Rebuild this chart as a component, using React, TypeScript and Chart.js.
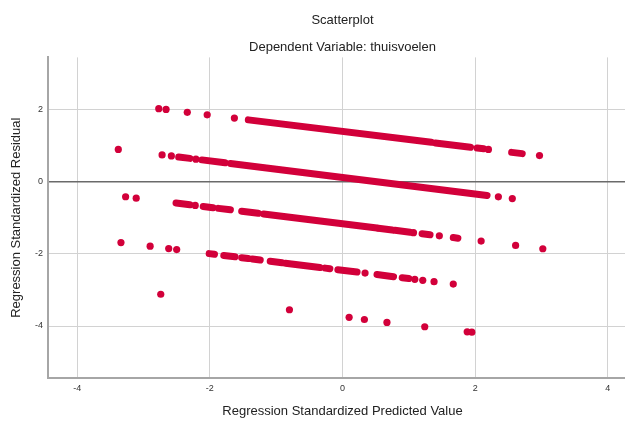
import React, { useEffect, useRef } from 'react';
import { Chart, registerables } from 'chart.js';

Chart.register(...registerables);

const titleText = 'Scatterplot';
const subtitleText = 'Dependent Variable: thuisvoelen';
const xTitle = 'Regression Standardized Predicted Value';
const yTitle = 'Regression Standardized Residual';

const xTicks = [-4, -2, 0, 2, 4];
const yTicks = [-4, -2, 0, 2];
const xRange = [-4.44, 4.44];
const yRange = [-5.44, 3.44];

// Isolated points per residual band
const b1X = [-2.77, -2.66, -2.34, -2.04, -1.63, 2.2, 2.97];
const b1Y = [2.02, 2.0, 1.92, 1.85, 1.76, 0.89, 0.72];
const b2X = [-3.38, -2.72, -2.58, -2.21, 2.35, 2.56];
const b2Y = [0.89, 0.74, 0.71, 0.622, -0.422, -0.47];
const b3X = [-3.27, -3.11, -2.22, 1.07, 1.46, 2.09, 2.61, 3.02];
const b3Y = [-0.42, -0.46, -0.661, -1.414, -1.503, -1.648, -1.767, -1.86];
const b4X = [-3.34, -2.9, -2.62, -2.5, 0.34, 1.09, 1.21, 1.38, 1.67];
const b4Y = [-1.69, -1.79, -1.855, -1.882, -2.534, -2.706, -2.734, -2.773, -2.839];
const b5X = [-2.74, -0.8, 0.1, 0.33, 0.67, 1.24, 1.88, 1.95];
const b5Y = [-3.12, -3.55, -3.76, -3.82, -3.9, -4.02, -4.16, -4.17];

// Dense runs of overlapping points: [start, end]
const b1RunX = [[-1.42, 1.34], [1.4, 1.93], [2.03, 2.13], [2.55, 2.71]];
const b1RunY = [[1.71, 1.09], [1.07, 0.95], [0.93, 0.91], [0.81, 0.775]];
const b2RunX = [[-2.47, -2.3], [-2.12, -1.77], [-1.69, 2.18]];
const b2RunY = [[0.68, 0.643], [0.601, 0.521], [0.503, -0.383]];
const b3RunX = [[-2.51, -2.3], [-2.1, -1.95], [-1.87, -1.69], [-1.52, -1.27], [-1.19, 0.52], [0.54, 0.75], [0.79, 1.02], [1.2, 1.32], [1.67, 1.74]];
const b3RunY = [[-0.594, -0.642], [-0.688, -0.722], [-0.741, -0.782], [-0.821, -0.878], [-0.897, -1.288], [-1.293, -1.341], [-1.35, -1.403], [-1.444, -1.471], [-1.551, -1.567]];
const b4RunX = [[-2.01, -1.93], [-1.79, -1.62], [-1.52, -1.42], [-1.36, -1.24], [-1.09, -0.91], [-0.86, -0.34], [-0.26, -0.19], [-0.07, 0.22], [0.52, 0.77], [0.9, 1.0]];
const b4RunY = [[-1.995, -2.013], [-2.045, -2.084], [-2.107, -2.13], [-2.144, -2.171], [-2.206, -2.247], [-2.259, -2.378], [-2.396, -2.412], [-2.44, -2.506], [-2.575, -2.633], [-2.663, -2.686]];

const POINT_COLOR = '#D2003A';
const FONT = "'Liberation Sans', Arial, sans-serif";

export default function App() {
  const ref = useRef<HTMLCanvasElement | null>(null);
  useEffect(() => {
    if (!ref.current) return;
    const pts: { x: number; y: number }[] = [];
    [[b1X, b1Y], [b2X, b2Y], [b3X, b3Y], [b4X, b4Y], [b5X, b5Y]].forEach(([xs, ys]) => {
      xs.forEach((x, i) => pts.push({ x, y: ys[i] }));
    });
    const runDatasets: any[] = [];
    [[b1RunX, b1RunY], [b2RunX, b2RunY], [b3RunX, b3RunY], [b4RunX, b4RunY]].forEach(([rx, ry]) => {
      rx.forEach((r, i) => {
        runDatasets.push({
          type: 'scatter',
          data: [{ x: r[0], y: ry[i][0] }, { x: r[1], y: ry[i][1] }],
          showLine: true,
          borderColor: POINT_COLOR,
          backgroundColor: POINT_COLOR,
          borderWidth: 7,
          borderCapStyle: 'round',
          pointRadius: 0,
          pointHoverRadius: 0,
        });
      });
    });
    const chart = new Chart(ref.current, {
      type: 'scatter',
      data: {
        datasets: [
          {
            data: pts,
            backgroundColor: POINT_COLOR,
            borderColor: POINT_COLOR,
            pointRadius: 3.6,
            borderWidth: 0,
          },
          ...runDatasets,
        ],
      },
      options: {
        animation: false,
        responsive: false,
        layout: { padding: 0 },
        plugins: {
          legend: { display: false },
          tooltip: { enabled: false },
          title: {
            display: true,
            text: titleText,
            fullSize: false,
            color: '#222',
            font: { family: FONT, size: 13, weight: 'normal' },
            padding: { top: 13, bottom: 0 },
          },
          subtitle: {
            display: true,
            text: subtitleText,
            fullSize: false,
            color: '#222',
            font: { family: FONT, size: 13, weight: 'normal' },
            padding: { top: 11, bottom: 2.2 },
          },
        },
        scales: {
          x: {
            type: 'linear',
            min: xRange[0],
            max: xRange[1],
            afterBuildTicks: (s: any) => {
              s.ticks = xTicks.map((v) => ({ value: v }));
            },
            afterFit: (s: any) => {
              s.height = 45;
            },
            grid: { color: '#d2d2d2', lineWidth: 1, drawTicks: false },
            border: { color: '#a6a6a6', width: 2 },
            ticks: {
              padding: 5,
              color: '#333',
              font: { family: FONT, size: 9 },
              maxRotation: 0,
            },
            title: {
              display: true,
              text: xTitle,
              color: '#222',
              font: { family: FONT, size: 13 },
              padding: { top: 0, bottom: 3.5 },
            },
          },
          y: {
            type: 'linear',
            min: yRange[0],
            max: yRange[1],
            afterBuildTicks: (s: any) => {
              s.ticks = yTicks.map((v) => ({ value: v }));
            },
            afterFit: (s: any) => {
              s.width = 48;
            },
            grid: {
              color: (c: any) => (c.tick && c.tick.value === 0 ? '#6a6a6a' : '#d2d2d2'),
              lineWidth: (c: any) => (c.tick && c.tick.value === 0 ? 1.5 : 1),
              drawTicks: false,
            },
            border: { color: '#a6a6a6', width: 2 },
            ticks: {
              padding: 5,
              color: '#333',
              font: { family: FONT, size: 9 },
            },
            title: {
              display: true,
              text: yTitle,
              color: '#222',
              font: { family: FONT, size: 13 },
              padding: { top: 9, bottom: 0 },
            },
          },
        },
      },
    });
    return () => chart.destroy();
  }, []);
  return (
    <div style={{ position: 'absolute', left: 0, top: 0, width: 625, height: 423, overflow: 'hidden', background: '#fff' }}>
      <canvas ref={ref} width={641} height={423} style={{ width: 641, height: 423, display: 'block' }} />
    </div>
  );
}
